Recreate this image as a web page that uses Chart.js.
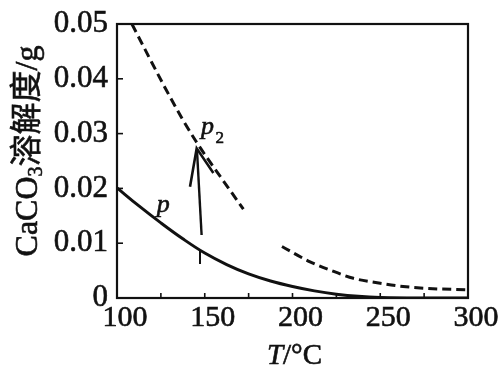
<!DOCTYPE html>
<html>
<head>
<meta charset="utf-8">
<script src="https://cdn.jsdelivr.net/npm/chart.js@4.4.1/dist/chart.umd.min.js"></script>
<style>
  body { margin: 0; background: #fff; }
  #wrap { width: 504px; height: 369px; position: relative; }
</style>
</head>
<body>
<div id="wrap"><canvas id="myChart"></canvas></div>
<script>
// solid curve p
const solidT = [100, 112.5, 125, 137.5, 150, 162.5, 175, 187.5, 200, 212.5, 225, 237.5, 250, 275, 300];
const solidS = [0.0201, 0.0168, 0.0137, 0.0108, 0.0082, 0.0061, 0.0044, 0.0031, 0.0021, 0.0013, 0.0007, 0.0003, 0.0001, 0.0000, 0.0000];

// dashed curve (upper branch, through p2)
const dashAT = [108.5, 118, 128, 137, 145, 155, 163, 172];
const dashAS = [0.0500, 0.0441, 0.0380, 0.0328, 0.0286, 0.0239, 0.0203, 0.0162];

// dashed curve (lower branch)
const dashBT = [194, 210, 221.4, 234.7, 250, 263, 280, 299];
const dashBS = [0.0094, 0.0066, 0.0051, 0.0036, 0.0027, 0.0021, 0.0017, 0.0015];

// arrow from curve p up to p2
const arrowT = [148.2, 145.6];
const arrowS = [0.0115, 0.0268];
const headT = [141.6, 145.4, 154.9];
const headS = [0.0203, 0.0273, 0.0228];
const markT = [147.3, 147.3];
const markS = [0.0086, 0.0062];

// axes
const xTicks = [100, 125, 150, 175, 200, 225, 250, 275, 300];
const xLabels = [100, 150, 200, 250, 300];
const yTicks = [0, 0.01, 0.02, 0.03, 0.04, 0.05];

const serif = "'Liberation Serif', 'Noto Sans CJK SC', serif";

const toPoints = (xs, ys) => xs.map((x, i) => ({ x: x, y: ys[i] }));

const lineSet = (xs, ys, extra) => Object.assign({
  data: toPoints(xs, ys),
  borderColor: "#111",
  borderWidth: 2.5,
  pointRadius: 0,
  fill: false,
  tension: 0
}, extra);

// filled text with a thin outline, to match the heavy print
const inkText = (ctx, s, x, y) => {
  ctx.fillText(s, x, y);
  ctx.strokeText(s, x, y);
};

const framePlugin = {
  id: "frame",
  afterDraw(chart) {
    const ctx = chart.ctx;
    const a = chart.chartArea;
    const xs = chart.scales.x;
    const ys = chart.scales.y;
    ctx.save();
    ctx.strokeStyle = "#111";
    ctx.lineWidth = 2.2;
    ctx.strokeRect(a.left, a.top, a.right - a.left, a.bottom - a.top);
    ctx.lineWidth = 1.6;
    // inward tick marks
    xTicks.forEach((t) => {
      const px = xs.getPixelForValue(t);
      ctx.beginPath();
      ctx.moveTo(px, a.bottom);
      ctx.lineTo(px, a.bottom - 5);
      ctx.stroke();
    });
    yTicks.forEach((t) => {
      const py = ys.getPixelForValue(t);
      ctx.beginPath();
      ctx.moveTo(a.left, py);
      ctx.lineTo(a.left + 6, py);
      ctx.stroke();
    });

    ctx.fillStyle = "#111";
    ctx.lineWidth = 0.6;
    ctx.textBaseline = "alphabetic";
    // curve labels
    ctx.font = "italic 26px " + serif;
    ctx.textAlign = "center";
    inkText(ctx, "p", xs.getPixelForValue(126.3), ys.getPixelForValue(0.0157));
    inkText(ctx, "p", xs.getPixelForValue(151.5), ys.getPixelForValue(0.0299));
    ctx.font = "17px " + serif;
    inkText(ctx, "2", xs.getPixelForValue(158.6), ys.getPixelForValue(0.0282));

    // x title  T/°C
    ctx.textAlign = "left";
    const xMid = (a.left + a.right) / 2 + 2;
    ctx.font = "italic 29px " + serif;
    const tW = ctx.measureText("T").width;
    ctx.font = "29px " + serif;
    const rW = ctx.measureText("/°C").width;
    const xStart = xMid - (tW + rW) / 2;
    ctx.font = "italic 29px " + serif;
    inkText(ctx, "T", xStart, 364);
    ctx.font = "29px " + serif;
    inkText(ctx, "/°C", xStart + tW, 364);

    // y title  CaCO3溶解度/g
    ctx.translate(37, (a.top + a.bottom) / 2 - 10);
    ctx.rotate(-Math.PI / 2);
    const big = "32px " + serif;
    const small = "20px " + serif;
    ctx.font = big;
    const w1 = ctx.measureText("CaCO").width;
    ctx.font = small;
    const w2 = ctx.measureText("3").width;
    ctx.font = big;
    const w3 = ctx.measureText("溶解度/g").width;
    let cx = -(w1 + w2 + w3) / 2;
    inkText(ctx, "CaCO", cx, 0);
    cx += w1;
    ctx.font = small;
    inkText(ctx, "3", cx, 5);
    cx += w2;
    ctx.font = big;
    inkText(ctx, "溶解度/g", cx, 0);
    ctx.restore();
  }
};

const ctx = document.getElementById("myChart");
const Config = {
  type: "line",
  data: {
    datasets: [
      lineSet(solidT, solidS, { tension: 0.4, borderWidth: 3 }),
      lineSet(dashAT, dashAS, { cubicInterpolationMode: "monotone", borderDash: [9, 5], borderWidth: 3 }),
      lineSet(dashBT, dashBS, { cubicInterpolationMode: "monotone", borderDash: [9, 5], borderWidth: 3 }),
      lineSet(arrowT, arrowS, { borderWidth: 2.4 }),
      lineSet(headT, headS, { borderWidth: 2.6 }),
      lineSet(markT, markS, { borderWidth: 2 })
    ]
  },
  options: {
    responsive: true,
    maintainAspectRatio: false,
    animation: false,
    layout: { padding: { top: 24, right: 36, left: 0, bottom: 0 } },
    plugins: { legend: { display: false }, tooltip: { enabled: false } },
    scales: {
      x: {
        type: "linear",
        min: 100,
        max: 300,
        border: { display: false },
        grid: { display: false, drawTicks: false },
        afterFit: (scale) => {
          scale.height = 71;
          scale.paddingLeft = 0;
          scale.paddingRight = 0;
        },
        afterBuildTicks: (scale) => { scale.ticks = xLabels.map((v) => ({ value: v })); },
        ticks: {
          padding: 2,
          labelOffset: 8,
          maxRotation: 0,
          color: "#111",
          textStrokeColor: "#111",
          textStrokeWidth: 0.6,
          font: { family: serif, size: 30 }
        }
      },
      y: {
        min: 0,
        max: 0.05,
        border: { display: false },
        grid: { display: false, drawTicks: false },
        afterFit: (scale) => {
          scale.width = 117;
          scale.paddingTop = 0;
          scale.paddingBottom = 0;
        },
        afterBuildTicks: (scale) => { scale.ticks = yTicks.map((v) => ({ value: v })); },
        ticks: {
          padding: 9,
          color: "#111",
          textStrokeColor: "#111",
          textStrokeWidth: 0.6,
          font: { family: serif, size: 31 },
          callback: (v) => (v === 0 ? "0" : v.toFixed(2))
        }
      }
    }
  },
  plugins: [framePlugin]
};
const myChart = new Chart(ctx, Config);
</script>
</body>
</html>
